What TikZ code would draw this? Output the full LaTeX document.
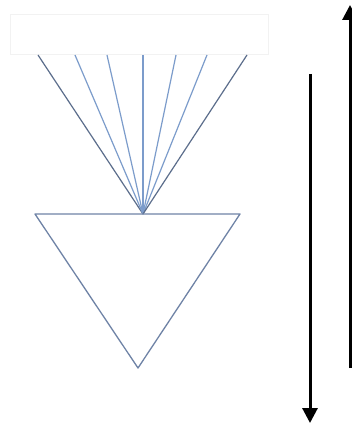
\documentclass[tikz,border=0pt]{standalone}
\usetikzlibrary{arrows.meta}
\begin{document}
\begin{tikzpicture}[x=1pt,y=-1pt,
  fan/.style={draw=fanblue,line width=1.2pt},
  fanout/.style={draw=fandark,line width=1.2pt},
  tri/.style={draw=tricol,line width=1.3pt},
  bigarrow/.style={draw=black,line width=3pt,-{Triangle[length=15pt,width=15pt]}}]
\definecolor{fanblue}{HTML}{7C9CCB}
\definecolor{fandark}{HTML}{5C6E8C}
\definecolor{tricol}{HTML}{6F83A6}
\definecolor{boxcol}{HTML}{F2F2F2}
\clip (0,0) rectangle (352,425);
\useasboundingbox (0,0) rectangle (352,425);
\fill[white] (0,0) rectangle (352,425);
% faint box
\node[draw=boxcol,line width=0.8pt,minimum width=258pt,minimum height=40pt,inner sep=0pt] (box) at (139,34) {};
% apex of fan
\coordinate (apex) at (143,214);
\coordinate (t1) at (38,55);
\coordinate (t2) at (75,55);
\coordinate (t3) at (107,55);
\coordinate (t4) at (143,55);
\coordinate (t5) at (176,55);
\coordinate (t6) at (207,55);
\coordinate (t7) at (247,55);
\draw[fanout] (apex) -- (t1);
\draw[fan] (apex) -- (t2);
\draw[fan] (apex) -- (t3);
\draw[fan] (apex) -- (t4);
\draw[fan] (apex) -- (t5);
\draw[fan] (apex) -- (t6);
\draw[fanout] (apex) -- (t7);
% triangle
\coordinate (tl) at (35,214);
\coordinate (tr) at (240,214);
\coordinate (tb) at (138,368);
\draw[tri,line join=round] (tl) -- (tr) -- (tb) -- cycle;
% arrows
\coordinate (ua0) at (350,368);
\coordinate (ua1) at (350,5);
\draw[bigarrow] (ua0) -- (ua1);
\coordinate (da0) at (310,74);
\coordinate (da1) at (310,423);
\draw[bigarrow] (da0) -- (da1);
\end{tikzpicture}
\end{document}
